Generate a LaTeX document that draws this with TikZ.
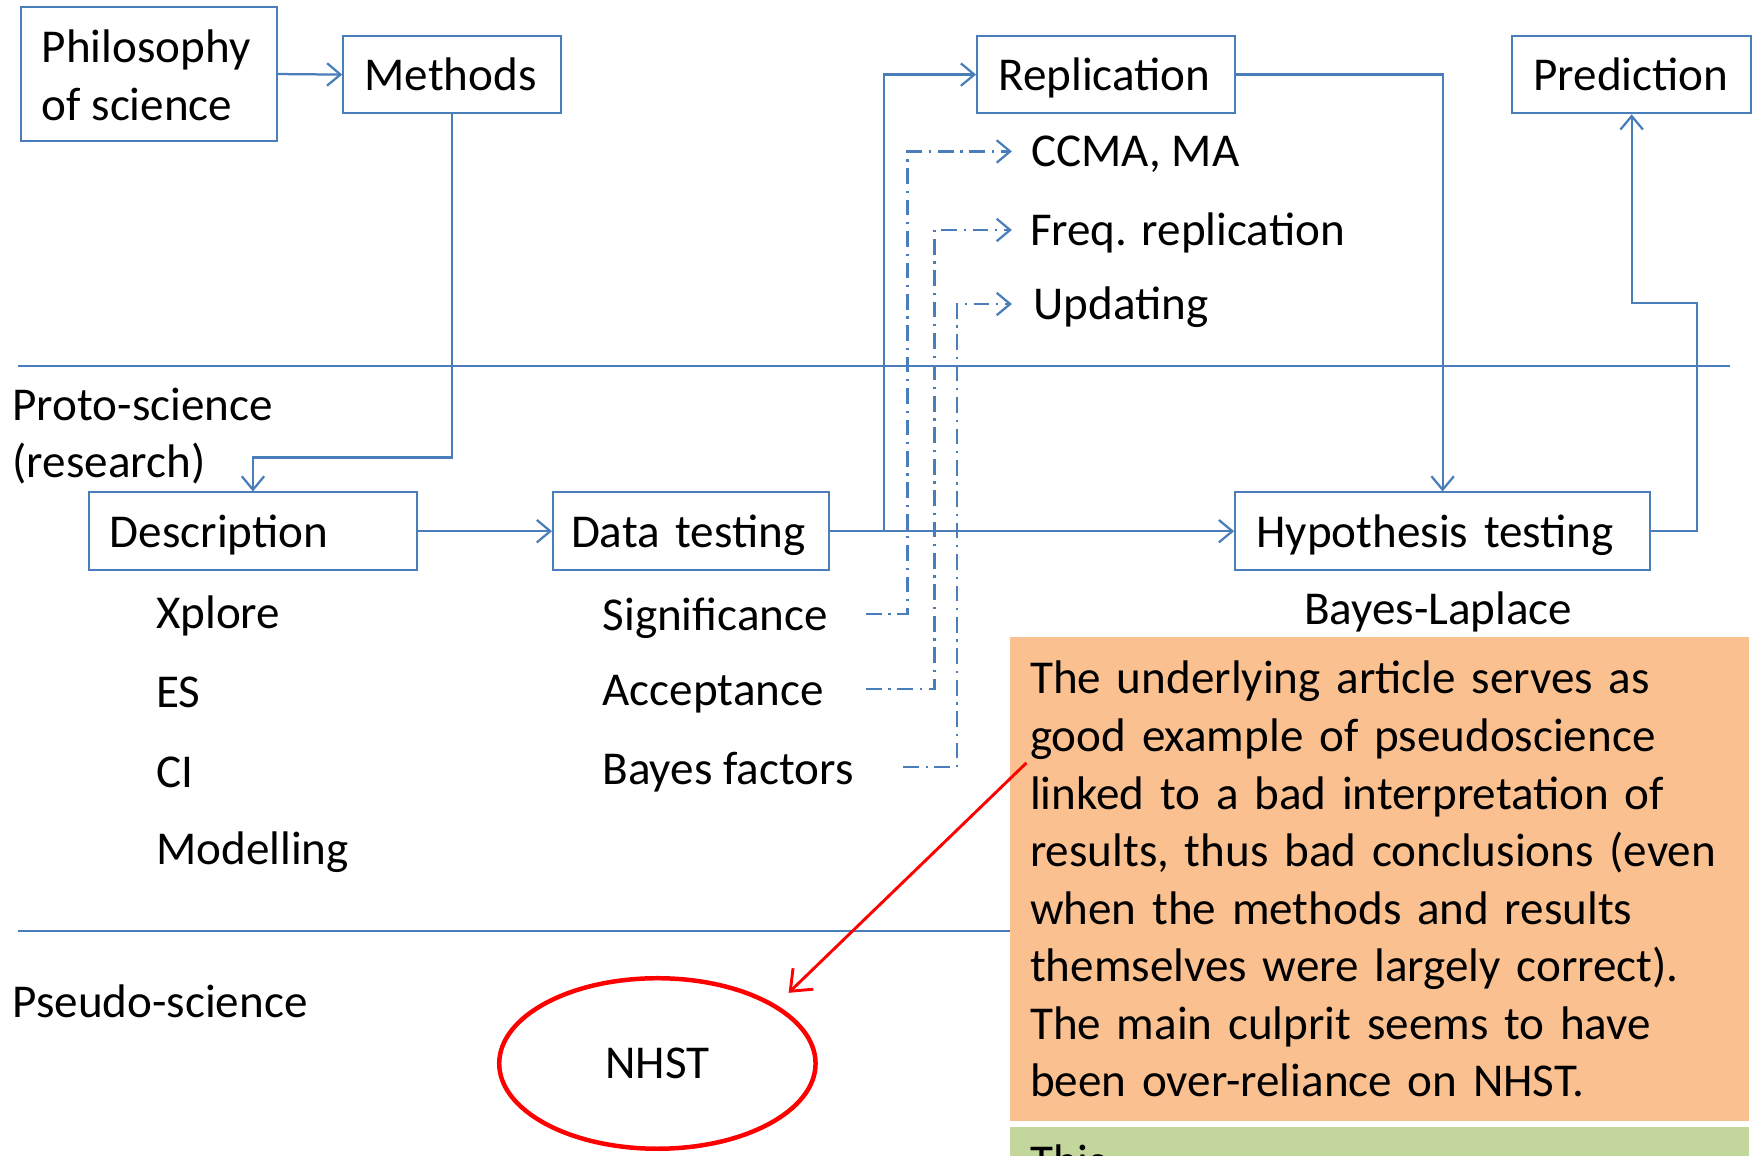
\documentclass[tikz,border=0pt]{standalone}
\usepackage{fontspec}
\setmainfont{Carlito}
\usetikzlibrary{arrows.meta,shapes.geometric}

\definecolor{linkblue}{HTML}{4A7EBB}
\definecolor{noteorange}{HTML}{FAC090}
\definecolor{notegreen}{HTML}{C3D69B}

\begin{document}
\begin{tikzpicture}[x=1pt,y=-1pt,
  font=\fontsize{42}{51.3}\selectfont,
  frame/.style={draw=linkblue, line width=1.8pt, inner xsep=19pt, inner ysep=0pt, align=left,
    execute at begin node={\hyphenpenalty=10000}},
  box/.style={frame, text height=34pt, text depth=5pt, minimum height=69pt},
  lbl/.style={inner sep=0pt, anchor=base west},
  flow/.style={draw=linkblue, line width=2pt, -{Straight Barb[length=12pt,width=20pt,line width=2pt]}},
  alt/.style={draw=linkblue, line width=2pt, dash pattern=on 14pt off 6pt on 2pt off 6pt,
    -{Straight Barb[length=12pt,width=20pt,line width=2pt]}},
  sep/.style={draw=linkblue, line width=1.8pt},
  hint/.style={draw=red, line width=2.6pt, -{Straight Barb[length=16pt,width=26pt,line width=2.6pt]}}
]
\clip (0,0) rectangle (1568,1030);
\fill[white] (0,0) rectangle (1568,1030);

% level separators
\draw[sep] (16,326) -- (1542,326);
\draw[sep] (16,830) -- (1542,830);

% level names
\node[lbl] (proto1) at (11,375) {Proto-science};
\node[lbl] (proto2) at (11,426) {(research)};
\node[lbl] (pseudo) at (11,907) {Pseudo-science};

% top row
\node[frame, text width=190pt, minimum height=120pt] (phil) at (133,66) {};
\node[lbl] (philtxt) at (37,56) {Philosophy};
\node[lbl] (philtxt2) at (37,107) {of science};
\node[box, text width=156pt] (methods) at (403,66.5) {Methods};
\node[box, text width=192pt] (repl) at (986,66.5) {Replication};
\node[box, text width=175pt] (pred) at (1454.5,66.5) {Prediction};

% middle row
\node[box, text width=255pt] (desc) at (225.5,473.5) {Description};
\node[box, inner xsep=16pt, text width=214pt] (data) at (616,473.5) {Data testing};
\node[box, text width=332pt] (hyp) at (1286,473.5) {Hypothesis testing};

% items under the boxes
\node[lbl] (xplore) at (139,560) {Xplore};
\node[lbl] (es) at (139,631) {ES};
\node[lbl] (ci) at (139,702) {CI};
\node[lbl] (model) at (139,771) {Modelling};
\node[lbl] (sig) at (537,562) {Significance};
\node[lbl] (acc) at (537,629) {Acceptance};
\node[lbl] (bf) at (537,699) {Bayes factors};
\node[inner sep=0pt, anchor=base] (bl) at (1282,557) {Bayes-Laplace};

% replication variants
\node[lbl] (ccma) at (919,148) {CCMA, MA};
\node[lbl] (freq) at (918,219) {Freq. replication};
\node[lbl] (upd) at (921,285) {Updating};

% solid flow
\draw[flow] (phil.east) -- (methods.west);
\draw[flow] (methods.south) -- ++(0,306) -| (desc.north);
\draw[flow] (desc.east) -- (data.west);
\draw[flow] (data.east) -- (hyp.west);
\coordinate (split) at (788,473.5);
\draw[flow] (split) |- (repl.west);
\draw[flow] (repl.east) -| (hyp.north);
\coordinate (predturn) at (1513,270);
\draw[flow] (hyp.east) -| (predturn) -| (pred.south);

% dash-dot links from data testing methods to replication variants
\coordinate (sigout) at (772,547);
\coordinate (accout) at (772,614);
\coordinate (bfout) at (805,684);
\draw[alt] (sigout) -| (809,135) -- ([xshift=-17pt]ccma.west |- 0,135);
\draw[alt] (accout) -| (833,205) -- ([xshift=-16pt]freq.west |- 0,205);
\draw[alt] (bfout) -| (853,271) -- ([xshift=-19pt]upd.west |- 0,271);

% note boxes
\node[fill=noteorange, anchor=north west, minimum width=659pt, minimum height=431pt,
      inner xsep=18pt, inner ysep=0pt, text width=623pt, align=left] (note) at (900,568)
  {The underlying article serves as\\
   good example of pseudoscience\\
   linked to a bad interpretation of\\
   results, thus bad conclusions (even\\
   when the methods and results\\
   themselves were largely correct).\\
   The main culprit seems to have\\
   been over-reliance on NHST.};
\node[fill=notegreen, anchor=north west, minimum width=659pt, minimum height=80pt,
      inner sep=0pt] (note2) at (900,1004) {};
\node[lbl] (note2txt) at (918,1050) {This};

% NHST
\node[ellipse, draw=red, line width=4pt, minimum width=282pt, minimum height=152pt] (nhst) at (586,948) {NHST};
\coordinate (notept) at (915,680);
\coordinate (nhsttip) at (703,885);
\draw[hint] (notept) -- (nhsttip);
\end{tikzpicture}
\end{document}
